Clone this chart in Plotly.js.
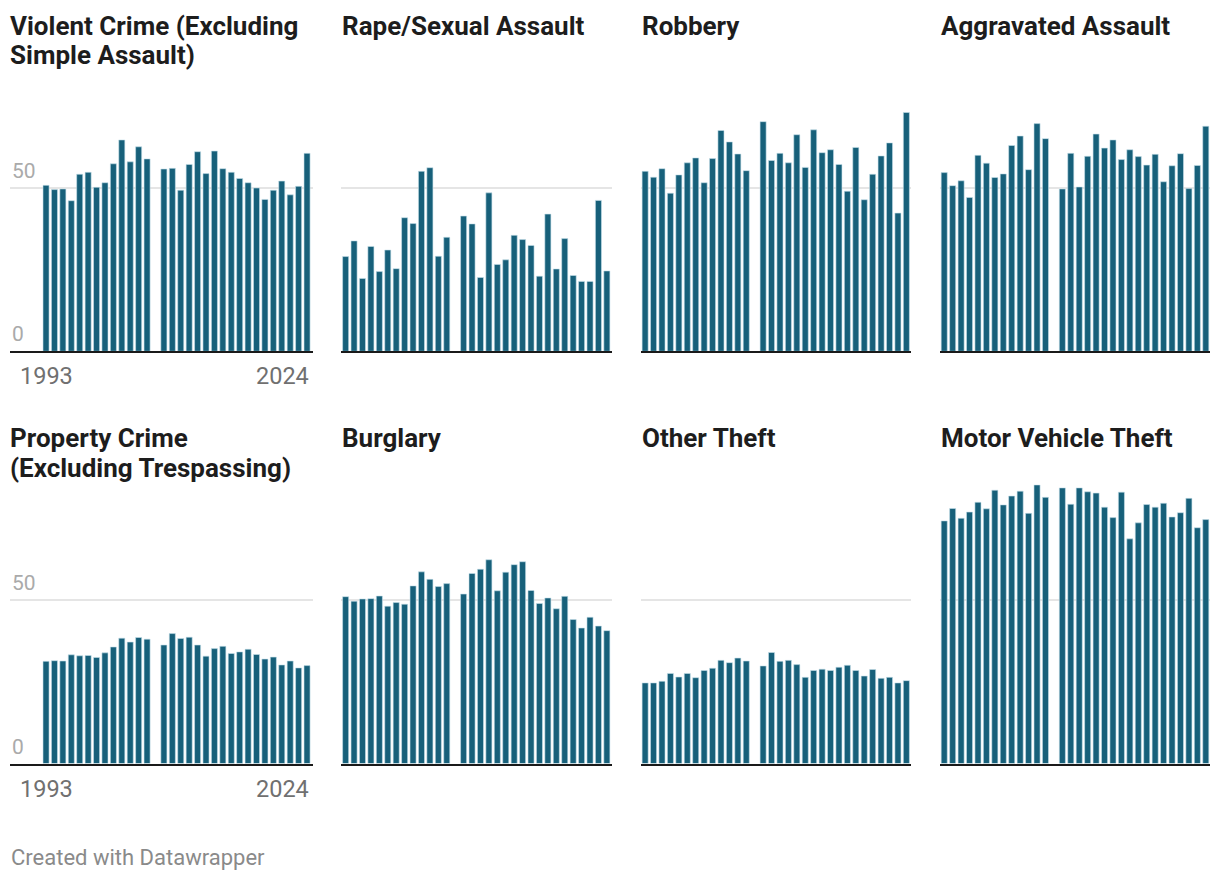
<!DOCTYPE html>
<html>
<head>
<meta charset="utf-8">
<script src="https://cdn.plot.ly/plotly-3.0.1.min.js"></script>
<style>
  html, body { margin: 0; padding: 0; background: #fff; }
  #chart { width: 1220px; height: 880px; }
</style>
</head>
<body>
<div id="chart"></div>
<script>
// ---- Data (percent of victimizations reported to police) ----
const years = [1993,1994,1995,1996,1997,1998,1999,2000,2001,2002,2003,2004,2005,2006,2007,2008,2009,2010,2011,2012,2013,2014,2015,2016,2017,2018,2019,2020,2021,2022,2023,2024];

const violentCrime = [50.8,49.5,49.7,46.1,54.2,54.8,50.2,51.6,57.4,64.7,58.0,62.6,58.9,null,55.8,56.0,49.3,57.2,61.1,54.4,61.3,55.9,54.8,52.9,51.6,50.0,46.5,49.3,52.1,47.9,50.5,60.6];
const rapeSexualAssault = [29.0,33.8,22.3,32.1,24.4,31.0,25.3,40.9,39.1,55.1,56.2,29.1,34.9,null,41.4,39.0,22.6,48.5,26.6,28.0,35.5,34.2,32.4,23.0,42.0,25.2,34.5,23.2,21.4,21.4,46.2,24.6];
const robbery = [55.1,53.3,55.9,48.4,54.0,57.7,59.2,51.6,59.0,67.6,64.1,60.4,55.3,null,70.3,58.4,60.6,57.7,66.3,56.3,67.8,60.8,61.7,57.2,49.0,62.4,46.4,54.2,59.8,63.8,42.3,73.1];
const aggravatedAssault = [54.7,50.7,52.2,47.1,60.0,57.6,53.2,54.3,63.0,65.9,55.6,69.7,65.1,null,49.7,60.6,50.3,59.7,66.5,62.2,64.7,58.7,61.7,59.6,57.0,60.3,51.9,56.8,60.5,49.8,56.9,68.9];
const propertyCrime = [31.3,31.5,31.4,33.3,33.0,33.1,32.5,33.9,35.7,38.4,37.2,38.6,38.1,null,36.3,39.8,38.3,38.7,36.3,32.9,35.2,35.9,33.7,34.2,35.0,33.4,32.0,32.6,30.2,31.4,29.3,30.0];
const burglary = [51.1,49.7,50.4,50.5,51.3,48.2,49.3,48.8,54.4,58.7,56.4,54.2,55.1,null,51.9,58.2,59.5,62.4,52.9,58.6,60.9,61.8,53.0,49.0,50.7,47.4,51.2,44.1,41.5,44.8,42.1,40.7];
const otherTheft = [24.7,24.7,25.2,27.6,26.5,27.6,26.3,28.5,29.2,31.6,30.9,32.3,31.4,null,29.9,34.0,31.3,31.6,30.3,26.4,28.5,28.9,28.5,29.5,30.1,28.5,26.8,28.8,26.1,26.4,24.7,25.4];
const motorVehicleTheft = [74.3,78.1,75.1,77.0,80.0,78.0,83.7,79.2,81.9,83.4,76.6,85.3,81.5,null,84.4,79.4,84.4,83.2,82.8,78.5,75.3,83.1,68.8,73.7,79.3,78.5,79.7,75.5,76.8,81.2,72.2,74.7];

const panelTitles = [
  ["Violent Crime (Excluding", "Simple Assault)"],
  ["Rape/Sexual Assault"],
  ["Robbery"],
  ["Aggravated Assault"],
  ["Property Crime", "(Excluding Trespassing)"],
  ["Burglary"],
  ["Other Theft"],
  ["Motor Vehicle Theft"]
];
const panelSeries = [violentCrime, rapeSexualAssault, robbery, aggravatedAssault,
                     propertyCrime, burglary, otherTheft, motorVehicleTheft];

const yTickVals = [0, 50];
const yTickText = ["0", "50"];
const xTickVals = [1993, 2024];
const xTickText = ["1993", "2024"];

// ---- Layout geometry ----
const W = 1220, H = 880;
const BAR = "#17607a";
const FONT = "Roboto, 'Open Sans', sans-serif";
const colPx = [[10, 312.5], [341, 611.5], [640.5, 911], [940, 1210]];
const colRange = [[1988.72, 2024.65], [1992.45, 2024.55], [1992.45, 2024.55], [1992.5, 2024.5]];
const rowPx = [[72, 351.3], [484.3, 763.6]];
const titleTopPx = [9, 421];
const titleLineGap = 29.5;
const titleLeftPx = [8, 340, 640, 939];
const Y_MAX = 85.5;

const px2x = p => p / W;
const px2y = p => 1 - p / H;

const data = [];
const layout = {
  width: W, height: H,
  margin: {l: 0, r: 0, t: 0, b: 0},
  paper_bgcolor: "#ffffff",
  plot_bgcolor: "rgba(0,0,0,0)",
  showlegend: false,
  bargap: 0.28,
  font: {family: FONT, color: "#333"},
  annotations: []
};

panelSeries.forEach((vals, i) => {
  const row = Math.floor(i / 4), col = i % 4;
  const n = i + 1;
  const xa = "xaxis" + (n === 1 ? "" : n), ya = "yaxis" + (n === 1 ? "" : n);
  const xr = "x" + (n === 1 ? "" : n), yr = "y" + (n === 1 ? "" : n);

  data.push({
    type: "bar",
    x: years, y: vals,
    xaxis: xr, yaxis: yr,
    marker: {color: BAR, line: {color: "rgba(200,225,235,0.75)", width: 0.8}},
    hoverinfo: "x+y"
  });

  layout[xa] = {
    domain: [px2x(colPx[col][0]), px2x(colPx[col][1])],
    range: colRange[col],
    anchor: yr,
    showgrid: false, zeroline: false, showticklabels: false, ticks: "",
    showline: true, linecolor: "#1a1a1a", linewidth: 2,
    fixedrange: true
  };
  layout[ya] = {
    domain: [px2y(rowPx[row][1]), px2y(rowPx[row][0])],
    range: [0, Y_MAX],
    anchor: xr,
    tickvals: yTickVals,
    showticklabels: false, ticks: "",
    showgrid: true, gridcolor: "#e5e5e5", gridwidth: 2,
    zeroline: false, showline: false,
    fixedrange: true
  };

  // panel title, one annotation per line
  panelTitles[i].forEach((line, k) => {
    layout.annotations.push({
      xref: "paper", yref: "paper",
      x: px2x(titleLeftPx[col]), y: px2y(titleTopPx[row] + k * titleLineGap),
      xanchor: "left", yanchor: "top", align: "left",
      text: "<b>" + line + "</b>",
      showarrow: false,
      font: {family: FONT, size: 26, color: "#1d1d1d"}
    });
  });

  if (col === 0) {
    // y labels inside, above grid lines
    yTickVals.forEach((v, k) => {
      layout.annotations.push({
        xref: "paper", yref: yr,
        x: px2x(10), y: v,
        xanchor: "left", yanchor: "bottom",
        yshift: 3,
        text: yTickText[k], showarrow: false,
        font: {family: FONT, size: 21, color: "#aaaaaa"}
      });
    });
    // x labels (first and last year)
    xTickVals.forEach((v, k) => {
      layout.annotations.push({
        xref: xr, yref: "paper",
        x: k === 0 ? v : v + 0.42,
        y: px2y(rowPx[row][1] + 9),
        xanchor: k === 0 ? "center" : "right", yanchor: "top",
        text: xTickText[k], showarrow: false,
        font: {family: FONT, size: 23.5, color: "#707070"}
      });
    });
  }
});

layout.annotations.push({
  xref: "paper", yref: "paper",
  x: px2x(9), y: px2y(857),
  xanchor: "left", yanchor: "middle",
  text: "Created with Datawrapper", showarrow: false,
  font: {family: FONT, size: 22, color: "#8a8a8a"}
});

Plotly.newPlot("chart", data, layout, {displayModeBar: false, staticPlot: true});
</script>
</body>
</html>
